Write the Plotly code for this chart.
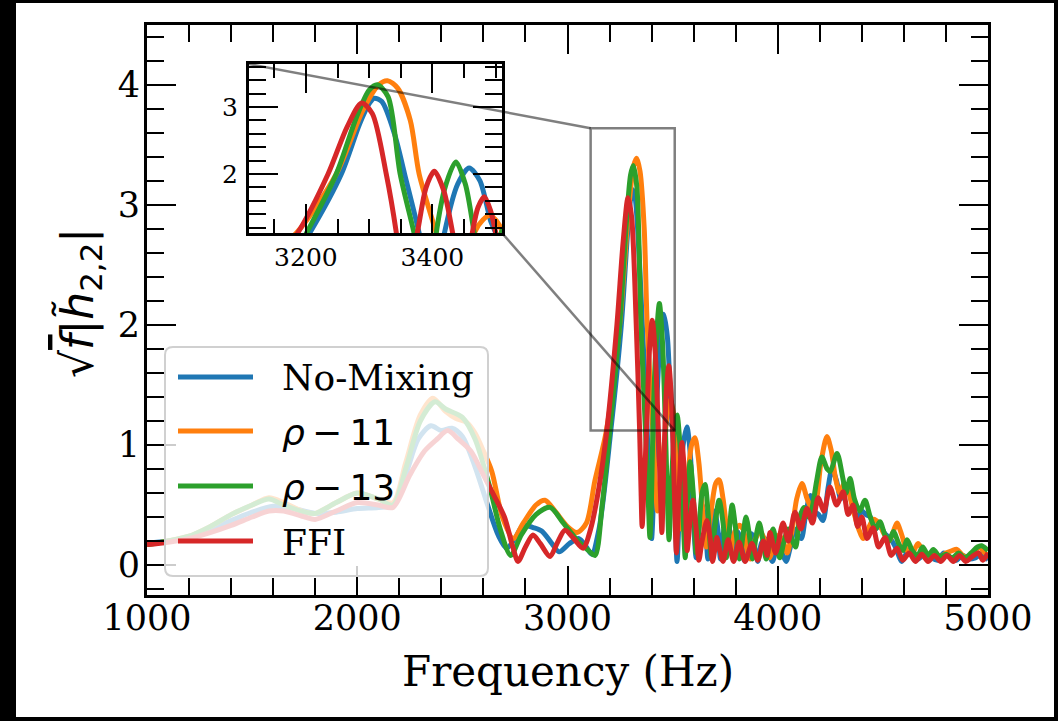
import plotly.graph_objects as go

# ---------------- data ----------------
freq_blue = [1000,1100,1200,1300,1400,1500,1600,1700,1800,1900,2000,2100,2170,2230,2290,2350,2400,2450,2500,2560,2620,2670,2710,2750,2790,2840,2880,2925,2960,3010,3055,3090,3115,3150,3206,3256,3285,3300,3308,3320,3340,3356,3379,3392,3400,3410,3419,3440,3458,3475,3492,3500,3510,3521,3535,3550,3568,3585,3600,3612,3625,3640,3655,3668,3682,3700,3715,3728,3745,3763,3780,3795,3810,3825,3840,3858,3875,3890,3905,3922,3940,3958,3975,3995,4010,4025,4040,4060,4080,4095,4112,4135,4155,4175,4195,4215,4240,4258,4280,4300,4320,4335,4355,4380,4400,4420,4440,4465,4485,4510,4535,4560,4590,4620,4645,4670,4700,4730,4760,4790,4820,4850,4880,4910,4940,4970,5000]
val_blue = [0.18,0.20,0.23,0.30,0.37,0.44,0.49,0.47,0.43,0.44,0.47,0.48,0.50,0.75,1.05,1.16,1.12,1.14,1.07,0.82,0.50,0.25,0.14,0.22,0.33,0.31,0.28,0.18,0.11,0.18,0.22,0.15,0.09,0.30,1.12,2.00,2.75,3.05,3.13,3.08,2.60,2.00,1.12,0.50,0.22,0.60,1.12,1.85,2.09,1.90,1.30,1.12,0.60,0.03,0.60,1.00,1.15,0.90,0.35,0.06,0.30,0.50,0.35,0.05,0.25,0.45,0.30,0.05,0.30,0.33,0.20,0.05,0.28,0.20,0.04,0.20,0.26,0.15,0.03,0.18,0.22,0.10,0.03,0.15,0.18,0.08,0.03,0.15,0.30,0.25,0.22,0.45,0.58,0.45,0.42,0.37,0.65,0.80,0.70,0.55,0.60,0.64,0.50,0.40,0.45,0.42,0.40,0.30,0.33,0.26,0.22,0.15,0.03,0.12,0.08,0.05,0.10,0.06,0.04,0.10,0.06,0.04,0.08,0.05,0.06,0.09,0.04]

freq_orange = [1000,1100,1200,1300,1400,1500,1580,1650,1750,1800,1900,2000,2100,2170,2230,2300,2360,2420,2470,2520,2560,2600,2640,2690,2742,2790,2850,2893,2940,3000,3045,3090,3130,3185,3248,3290,3315,3329,3345,3365,3379,3406,3418,3428,3445,3474,3490,3505,3525,3540,3565,3590,3606,3625,3645,3660,3680,3705,3721,3740,3760,3775,3790,3815,3835,3855,3870,3890,3916,3940,3960,3980,4005,4025,4045,4065,4090,4115,4140,4160,4177,4205,4234,4255,4275,4295,4315,4335,4360,4385,4406,4430,4455,4480,4505,4530,4550,4567,4590,4615,4640,4667,4690,4715,4745,4775,4800,4830,4852,4880,4910,4940,4960,4985,5000]
val_orange = [0.17,0.20,0.24,0.32,0.42,0.50,0.56,0.52,0.44,0.43,0.52,0.60,0.55,0.52,0.85,1.25,1.39,1.28,1.22,1.19,1.10,0.95,0.78,0.40,0.22,0.35,0.50,0.54,0.45,0.32,0.27,0.35,0.70,1.12,2.00,2.95,3.33,3.39,3.28,2.80,2.00,1.12,0.70,0.45,0.70,1.25,1.38,1.25,0.70,0.30,0.60,1.00,1.06,0.85,0.40,0.15,0.40,0.68,0.71,0.55,0.25,0.10,0.25,0.33,0.30,0.12,0.05,0.20,0.28,0.20,0.06,0.15,0.25,0.20,0.10,0.25,0.55,0.68,0.55,0.48,0.49,0.85,1.07,0.95,0.72,0.60,0.68,0.62,0.45,0.30,0.22,0.30,0.38,0.35,0.26,0.20,0.28,0.35,0.25,0.12,0.10,0.18,0.12,0.08,0.10,0.07,0.10,0.12,0.13,0.08,0.06,0.12,0.15,0.10,0.08]

freq_green = [1000,1100,1200,1300,1400,1500,1580,1650,1750,1800,1900,2000,2100,2170,2230,2300,2370,2420,2500,2560,2630,2680,2730,2780,2850,2917,2980,3050,3100,3131,3165,3201,3248,3280,3300,3313,3330,3349,3371,3385,3392,3400,3406,3420,3437,3452,3466,3476,3483,3495,3510,3521,3535,3550,3560,3570,3583,3598,3612,3625,3640,3654,3670,3685,3700,3721,3740,3755,3770,3783,3800,3818,3835,3849,3865,3880,3898,3912,3930,3945,3962,3978,3995,4010,4030,4050,4070,4085,4105,4125,4145,4160,4185,4210,4235,4250,4282,4310,4325,4344,4365,4390,4415,4440,4465,4486,4510,4530,4550,4575,4595,4615,4640,4665,4690,4715,4740,4770,4800,4830,4860,4890,4920,4950,4970,5000]
val_green = [0.17,0.20,0.24,0.32,0.42,0.50,0.55,0.50,0.44,0.43,0.52,0.60,0.55,0.50,0.80,1.20,1.36,1.30,1.23,1.05,0.65,0.30,0.08,0.25,0.42,0.48,0.35,0.20,0.12,0.08,0.50,1.12,2.00,2.85,3.25,3.33,3.15,2.00,1.12,0.50,0.23,0.60,1.12,1.80,2.18,1.85,1.12,0.50,0.21,0.70,1.15,1.25,1.00,0.40,0.06,0.50,0.86,0.60,0.10,0.30,0.60,0.67,0.40,0.06,0.30,0.54,0.35,0.06,0.30,0.50,0.30,0.05,0.25,0.40,0.25,0.05,0.25,0.35,0.20,0.05,0.20,0.30,0.15,0.06,0.20,0.30,0.20,0.15,0.40,0.48,0.40,0.45,0.70,0.90,0.80,0.78,0.93,0.72,0.60,0.72,0.55,0.45,0.54,0.40,0.30,0.36,0.25,0.20,0.28,0.18,0.12,0.21,0.12,0.08,0.15,0.08,0.13,0.07,0.09,0.06,0.10,0.06,0.10,0.15,0.16,0.12]

freq_red = [1000,1100,1200,1300,1400,1500,1580,1650,1750,1800,1900,2000,2100,2170,2250,2320,2380,2430,2480,2540,2600,2650,2700,2740,2765,2800,2836,2870,2917,2950,2988,3030,3074,3110,3150,3187,3235,3265,3288,3305,3327,3343,3350,3355,3365,3376,3390,3403,3418,3432,3442,3449,3456,3463,3472,3482,3492,3500,3510,3518,3530,3544,3558,3569,3582,3597,3612,3625,3640,3663,3680,3690,3700,3710,3725,3740,3764,3790,3816,3845,3877,3905,3932,3950,3963,3990,4025,4050,4082,4110,4139,4165,4192,4220,4248,4280,4311,4335,4358,4380,4400,4425,4453,4480,4510,4540,4567,4595,4625,4655,4685,4715,4745,4775,4805,4835,4865,4895,4925,4955,4975,5000]
val_red = [0.17,0.19,0.22,0.27,0.33,0.40,0.45,0.45,0.40,0.38,0.45,0.52,0.50,0.48,0.75,0.95,1.05,1.12,1.05,0.95,0.75,0.58,0.40,0.15,0.03,0.15,0.25,0.18,0.07,0.18,0.29,0.22,0.14,0.30,0.65,1.12,2.00,2.70,3.06,2.90,2.00,1.12,0.60,0.32,0.70,1.12,1.80,2.04,1.75,1.12,0.60,0.27,0.70,1.12,1.50,1.66,1.45,1.12,0.50,0.10,0.60,1.02,0.70,0.12,0.35,0.54,0.30,0.04,0.20,0.37,0.20,0.03,0.12,0.23,0.12,0.03,0.21,0.03,0.19,0.03,0.18,0.04,0.20,0.08,0.27,0.10,0.35,0.20,0.44,0.30,0.47,0.35,0.56,0.45,0.65,0.50,0.61,0.42,0.50,0.32,0.40,0.22,0.31,0.15,0.23,0.08,0.14,0.04,0.10,0.03,0.09,0.03,0.08,0.03,0.08,0.03,0.08,0.03,0.07,0.10,0.04,0.10]

series_names = ["No-Mixing", "ρ − 11", "ρ − 13", "FFI"]
series_colors = ["#1f77b4", "#ff7f0e", "#2ca02c", "#d62728"]

main_xrange = [1000, 5000]
main_yrange = [-0.25, 4.5]
inset_xrange = [3110, 3510]
inset_yrange = [1.12, 3.64]

# ---------------- layout helpers (pixel geometry) ----------------
W, H = 1058, 721
L, R, T, B = 147, 988, 25, 595          # main plot area in pixels

def px_x(p):
    return (p - L) / (R - L)

def px_y(p):
    return (B - p) / (B - T)

inset_dom_x = [px_x(249), px_x(502)]
inset_dom_y = [px_y(233), px_y(64)]

def paper_to_data_x(px):
    return main_xrange[0] + px * (main_xrange[1] - main_xrange[0])

def paper_to_data_y(py):
    return main_yrange[0] + py * (main_yrange[1] - main_yrange[0])

fig = go.Figure()
series = [(freq_blue, val_blue), (freq_orange, val_orange), (freq_green, val_green), (freq_red, val_red)]
for (fx, fy), name, col in zip(series, series_names, series_colors):
    fig.add_trace(go.Scatter(x=fx, y=fy, mode="lines", name=name,
                             line=dict(color=col, width=5, shape="spline", smoothing=0.8),
                             showlegend=False, xaxis="x", yaxis="y", hoverinfo="skip"))
for (fx, fy), name, col in zip(series, series_names, series_colors):
    fig.add_trace(go.Scatter(x=fx, y=fy, mode="lines", name=name,
                             line=dict(color=col, width=5, shape="spline", smoothing=0.8),
                             showlegend=False, xaxis="x2", yaxis="y2", hoverinfo="skip"))

serif = "DejaVu Serif"
axis_common = dict(showline=True, linecolor="black", linewidth=3, mirror="ticks",
                   ticks="inside", tickwidth=2, tickcolor="black", showgrid=False,
                   zeroline=False)

fig.update_layout(
    width=W, height=H,
    margin=dict(l=L, r=W - R, t=T, b=H - B, pad=0),
    paper_bgcolor="black", plot_bgcolor="white",
    showlegend=False,
    xaxis=dict(range=main_xrange, domain=[0, 1], dtick=1000, ticklen=29,
               minor=dict(dtick=200, ticklen=17, tickwidth=2, ticks="inside", tickcolor="black"),
               tickfont=dict(family=serif, size=35, color="black"), ticklabelstandoff=-10,
               **axis_common),
    yaxis=dict(range=main_yrange, domain=[0, 1], dtick=1, tick0=0, ticklen=29,
               minor=dict(dtick=0.2, ticklen=17, tickwidth=2, ticks="inside", tickcolor="black"),
               tickfont=dict(family=serif, size=35, color="black"), ticklabelstandoff=-3,
               **axis_common),
    xaxis2=dict(range=inset_xrange, domain=inset_dom_x, anchor="y2", dtick=200, tick0=0, ticklen=29,
                minor=dict(dtick=50, ticklen=14, tickwidth=2, ticks="inside", tickcolor="black"),
                tickfont=dict(family=serif, size=25, color="black"), ticklabelstandoff=0,
                **axis_common),
    yaxis2=dict(range=inset_yrange, domain=inset_dom_y, anchor="x2", dtick=1, tick0=0, ticklen=29,
                minor=dict(dtick=0.2, ticklen=17, tickwidth=2, ticks="inside", tickcolor="black"),
                tickfont=dict(family=serif, size=25, color="black"), ticklabelstandoff=3,
                **axis_common),
)

shapes = []
# white figure area over black page
shapes.append(dict(type="rect", xref="paper", yref="paper", layer="below",
                   x0=px_x(16), x1=px_x(1054), y0=px_y(717), y1=px_y(3),
                   fillcolor="white", line=dict(width=0)))
# zoom rectangle
shapes.append(dict(type="rect", xref="x", yref="y", layer="above",
                   x0=inset_xrange[0], x1=inset_xrange[1], y0=inset_yrange[0], y1=inset_yrange[1],
                   line=dict(color="rgba(0,0,0,0.5)", width=2.5)))
# connector lines
ix0 = paper_to_data_x(inset_dom_x[0]); ix1 = paper_to_data_x(inset_dom_x[1])
iy0 = paper_to_data_y(inset_dom_y[0]); iy1 = paper_to_data_y(inset_dom_y[1])
shapes.append(dict(type="line", xref="x", yref="y", layer="above",
                   x0=ix0, y0=iy1, x1=inset_xrange[0], y1=inset_yrange[1],
                   line=dict(color="rgba(0,0,0,0.5)", width=2.5)))
shapes.append(dict(type="line", xref="x", yref="y", layer="above",
                   x0=ix1, y0=iy0, x1=inset_xrange[1], y1=inset_yrange[0],
                   line=dict(color="rgba(0,0,0,0.5)", width=2.5)))

# legend box (rounded), semi-transparent
lx0, lx1, ly0, ly1 = 165, 488, 347, 576
r = 8
def P(x, y):
    return f"{px_x(x):.5f},{px_y(y):.5f}"
path = (f"M {P(lx0 + r, ly0)} L {P(lx1 - r, ly0)} Q {P(lx1, ly0)} {P(lx1, ly0 + r)} "
        f"L {P(lx1, ly1 - r)} Q {P(lx1, ly1)} {P(lx1 - r, ly1)} L {P(lx0 + r, ly1)} "
        f"Q {P(lx0, ly1)} {P(lx0, ly1 - r)} L {P(lx0, ly0 + r)} Q {P(lx0, ly0)} {P(lx0 + r, ly0)} Z")
shapes.append(dict(type="path", xref="paper", yref="paper", layer="above", path=path,
                   fillcolor="rgba(255,255,255,0.8)", line=dict(color="#d0d0d0", width=2)))

rows_y = [377, 431, 486, 541]
annotations = []
for name, col, yy in zip(series_names, series_colors, rows_y):
    shapes.append(dict(type="line", xref="paper", yref="paper", layer="above",
                       x0=px_x(178), x1=px_x(253), y0=px_y(yy), y1=px_y(yy),
                       line=dict(color=col, width=5)))
    if name.startswith("ρ"):
        txt = "<i>ρ</i>\u2009−\u2009" + name.split("− ")[1]
        fam = "DejaVu Sans"
    else:
        txt = name
        fam = serif
    annotations.append(dict(xref="paper", yref="paper", x=px_x(280), y=px_y(yy + 1),
                            xanchor="left", yanchor="middle", showarrow=False,
                            text=txt, font=dict(family=fam, size=36, color="black")))

# axis titles
annotations.append(dict(xref="paper", yref="paper", x=0.5, y=px_y(645), xanchor="center", yanchor="top",
                        showarrow=False, text="Frequency (Hz)",
                        font=dict(family=serif, size=42, color="black")))
annotations.append(dict(xref="paper", yref="paper", x=px_x(80), y=px_y(303), xanchor="center", yanchor="middle",
                        showarrow=False, textangle=-90,
                        text="√<span style=\"text-decoration:overline\"><i>f</i></span>|<i>h\u0303</i><sub>2,2</sub>|",
                        font=dict(family="DejaVu Sans", size=44, color="black")))

fig.update_layout(shapes=shapes, annotations=annotations)
fig.write_html("out.html")
